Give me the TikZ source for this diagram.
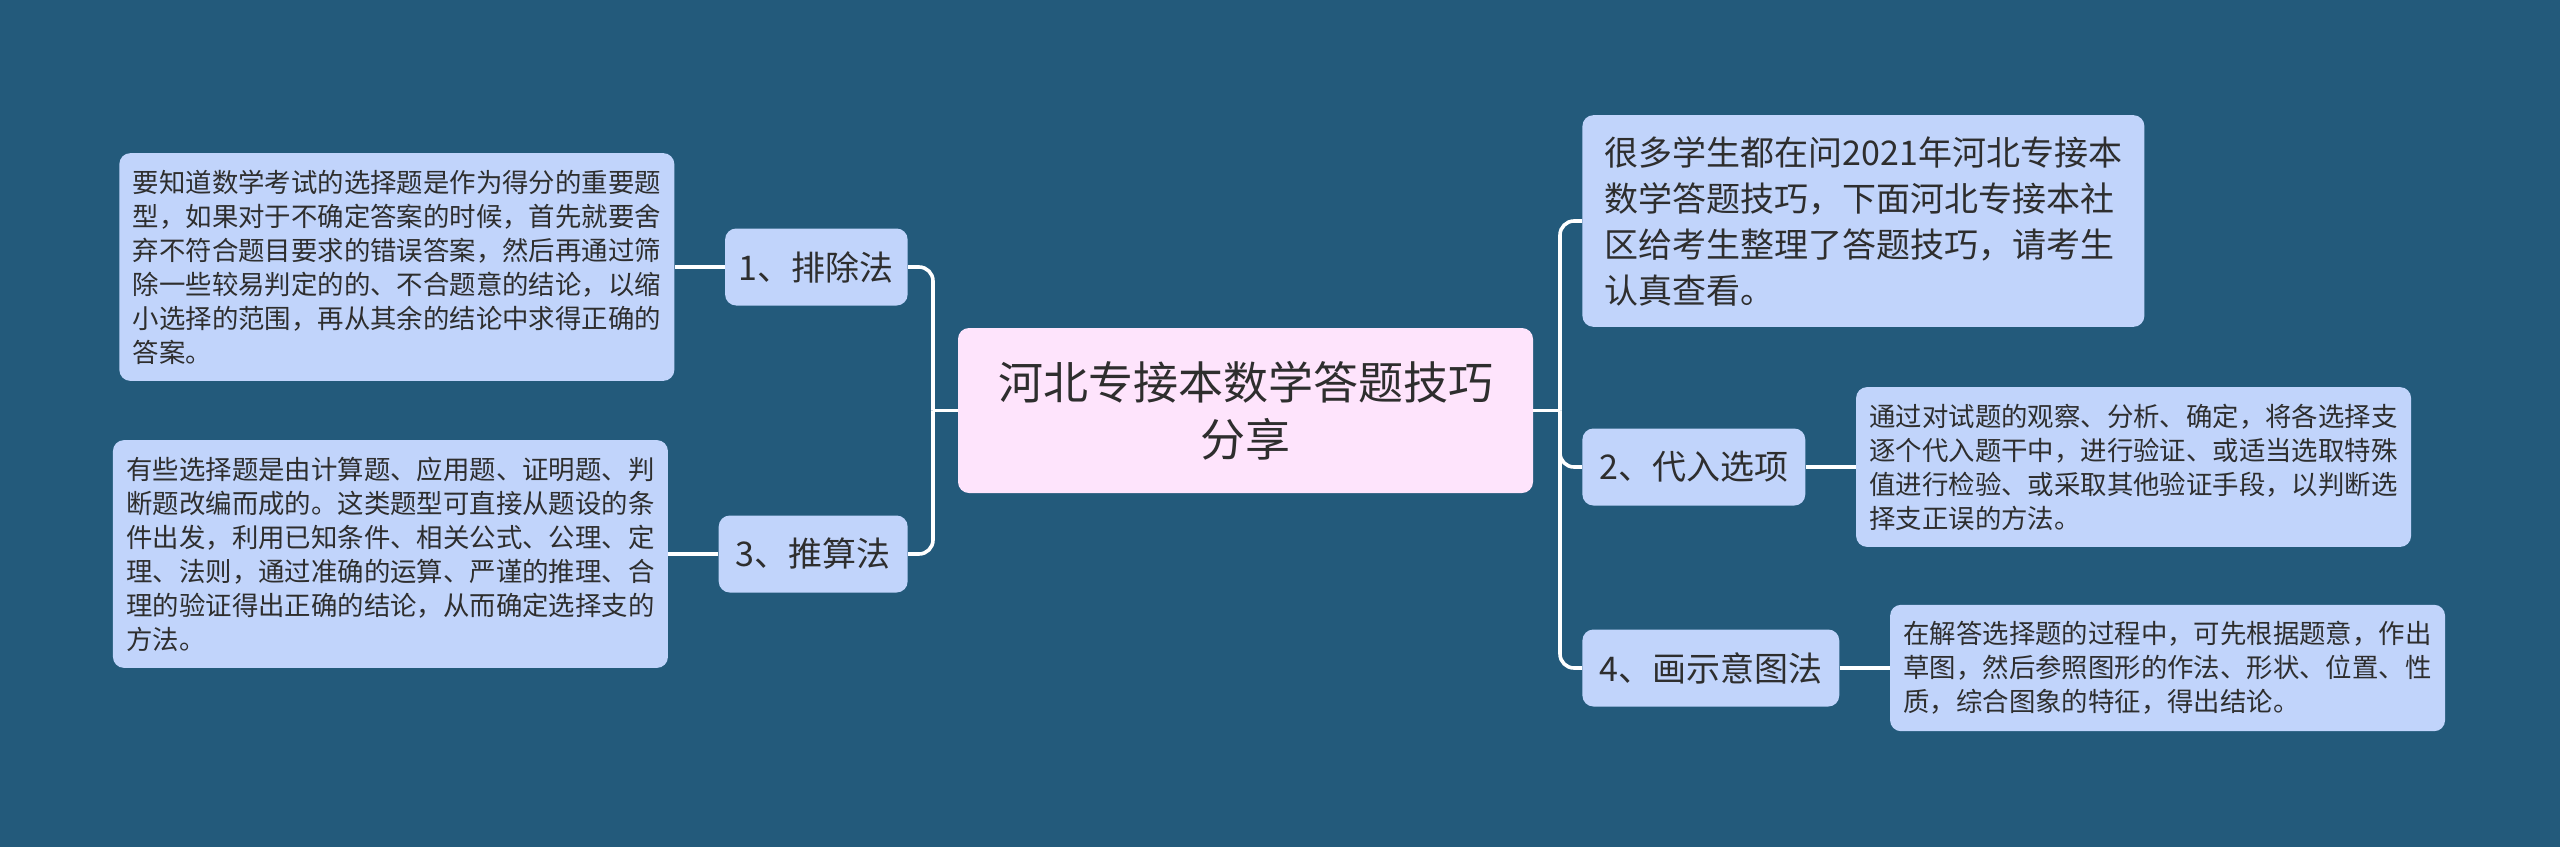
\documentclass[tikz,border=0pt]{standalone}
\usepackage{fontspec}
\setmainfont{Noto Sans CJK SC}
\usepackage{tikz}
\usetikzlibrary{positioning}
\definecolor{bgblue}{HTML}{235A7B}
\definecolor{leafblue}{HTML}{C1D4FB}
\definecolor{rootpink}{HTML}{FEE4FC}
\definecolor{inkgray}{HTML}{2E2E2E}

\begin{document}
\begin{tikzpicture}[x=0.5pt, y=-0.5pt, node distance=25pt,
  box/.style={fill=leafblue, rounded corners=5.5pt, text=inkgray, align=left},
  topic/.style={box, font=\fontsize{17pt}{23pt}\selectfont, inner xsep=8.5pt, minimum height=38.5pt},
  note/.style={box, font=\fontsize{13.2pt}{17pt}\selectfont, inner xsep=6.75pt, inner ysep=8.3pt},
  link/.style={draw=white, line width=1.8pt, rounded corners=7pt}]
\fill[bgblue] (0,0) rectangle (2560,847);
\node[box, fill=rootpink, align=center, font=\fontsize{22.5pt}{28.5pt}\selectfont, minimum width=287.5pt, minimum height=82.5pt] (root) at (1245.5,410.5) {河北专接本数学答题技巧\\分享};
\node[topic, anchor=east, inner xsep=6.9pt] (elim) at (908,267) {1、排除法};
\node[topic, anchor=east] (calc) at (908,554) {3、推算法};
\node[topic, anchor=west, minimum width=281pt, inner ysep=10.5pt] (intro) at (1582,221) {很多学生都在问2021年河北专接本\\数学答题技巧，下面河北专接本社\\区给考生整理了答题技巧，请考生\\认真查看。};
\node[topic, anchor=west] (subst) at (1582,467) {2、代入选项};
\node[topic, anchor=west] (sketch) at (1582,668) {4、画示意图法};
\node[note, left=of elim] (elimtxt) {要知道数学考试的选择题是作为得分的重要题\\型，如果对于不确定答案的时候，首先就要舍\\弃不符合题目要求的错误答案，然后再通过筛\\除一些较易判定的的、不合题意的结论，以缩\\小选择的范围，再从其余的结论中求得正确的\\答案。};
\node[note, left=of calc] (calctxt) {有些选择题是由计算题、应用题、证明题、判\\断题改编而成的。这类题型可直接从题设的条\\件出发，利用已知条件、相关公式、公理、定\\理、法则，通过准确的运算、严谨的推理、合\\理的验证得出正确的结论，从而确定选择支的\\方法。};
\node[note, right=of subst] (substtxt) {通过对试题的观察、分析、确定，将各选择支\\逐个代入题干中，进行验证、或适当选取特殊\\值进行检验、或采取其他验证手段，以判断选\\择支正误的方法。};
\node[note, right=of sketch] (sketchtxt) {在解答选择题的过程中，可先根据题意，作出\\草图，然后参照图形的作法、形状、位置、性\\质，综合图象的特征，得出结论。};
\coordinate (lj) at (933,410.5);
\coordinate (rj) at (1560,410.5);
\draw[link] (root.west) -- (lj);
\draw[link] (lj) |- (elim.east);
\draw[link] (lj) |- (calc.east);
\draw[link] (root.east) -- (rj);
\draw[link] (rj) |- (intro.west);
\draw[link] (rj) |- (subst.west);
\draw[link] (rj) |- (sketch.west);
\draw[link] (elim) -- (elimtxt);
\draw[link] (calc) -- (calctxt);
\draw[link] (subst) -- (substtxt);
\draw[link] (sketch) -- (sketchtxt);
\end{tikzpicture}
\end{document}
